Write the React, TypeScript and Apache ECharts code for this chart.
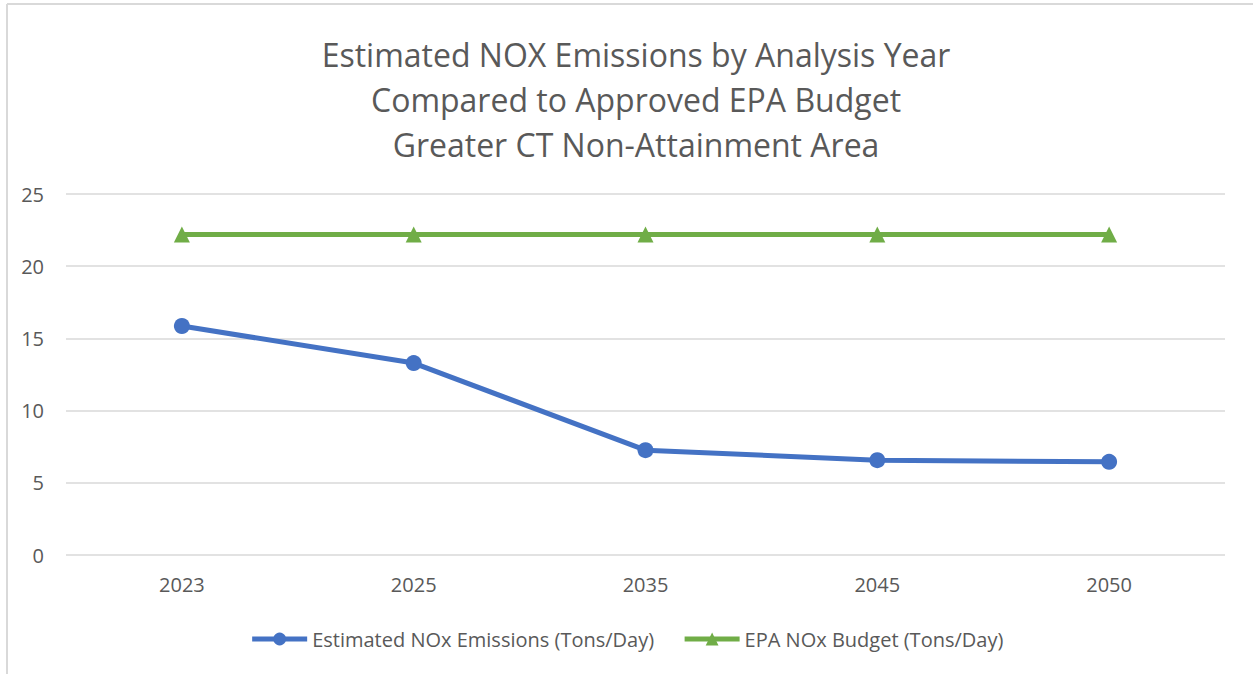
import React, { useEffect, useRef } from "react";
import * as echarts from "echarts";

const titleLines = [
  "Estimated NOX Emissions by Analysis Year",
  "Compared to Approved EPA Budget",
  "Greater CT Non-Attainment Area",
];
const years = ["2023", "2025", "2035", "2045", "2050"];
const emissions = [15.86, 13.29, 7.26, 6.57, 6.45];
const budget = [22.2, 22.2, 22.2, 22.2, 22.2];
const emissionsName = "Estimated NOx Emissions (Tons/Day)";
const budgetName = "EPA NOx Budget (Tons/Day)";

const FONT = "'Open Sans', 'Noto Sans', sans-serif";
const TXT = "#595959";

export default function App() {
  const ref = useRef<HTMLDivElement>(null);
  useEffect(() => {
    if (!ref.current) return;
    const chart = echarts.init(ref.current, undefined, { renderer: "svg" });
    chart.setOption({
      animation: false,
      backgroundColor: "#ffffff",
      textStyle: { fontFamily: FONT },
      title: {
        text: titleLines.join("\n"),
        left: 631,
        top: 27,
        textAlign: "center",
        textStyle: {
          fontFamily: FONT,
          fontSize: 32,
          fontWeight: "normal",
          color: TXT,
          lineHeight: 45,
        },
      },
      graphic: [
        { type: "line", shape: { x1: 7, y1: 4, x2: 1253, y2: 4 }, style: { stroke: "#d9d9d9", lineWidth: 2 } },
        { type: "line", shape: { x1: 7, y1: 4, x2: 7, y2: 674 }, style: { stroke: "#d9d9d9", lineWidth: 2 } },
      ],
      legend: {
        bottom: 20,
        left: "center",
        itemWidth: 55,
        itemHeight: 16,
        itemGap: 28,
        textStyle: { fontFamily: FONT, fontSize: 20, color: TXT },
        lineStyle: { width: 5 },
        data: [emissionsName, budgetName],
      },
      grid: { left: 66, right: 28, top: 194, bottom: 119, containLabel: false },
      xAxis: {
        type: "category",
        data: years,
        boundaryGap: true,
        axisLine: { show: false },
        axisTick: { show: false },
        axisLabel: { fontFamily: FONT, fontSize: 20, color: TXT, margin: 19 },
      },
      yAxis: {
        type: "value",
        min: 0,
        max: 25,
        interval: 5,
        axisLine: { show: false },
        axisTick: { show: false },
        axisLabel: { fontFamily: FONT, fontSize: 20, color: TXT, margin: 22 },
        splitLine: { lineStyle: { color: "#d9d9d9", width: 1.5 } },
      },
      series: [
        {
          name: emissionsName,
          type: "line",
          data: emissions,
          symbol: "circle",
          symbolSize: 16,
          itemStyle: { color: "#4472C4" },
          lineStyle: { color: "#4472C4", width: 5 },
        },
        {
          name: budgetName,
          type: "line",
          data: budget,
          symbol: "triangle",
          symbolSize: 16,
          itemStyle: { color: "#70AD47" },
          lineStyle: { color: "#70AD47", width: 5 },
        },
      ],
    });
    return () => chart.dispose();
  }, []);
  return (
    <div
      ref={ref}
      style={{ position: "absolute", left: 0, top: 0, width: 1253, height: 674 }}
    />
  );
}
